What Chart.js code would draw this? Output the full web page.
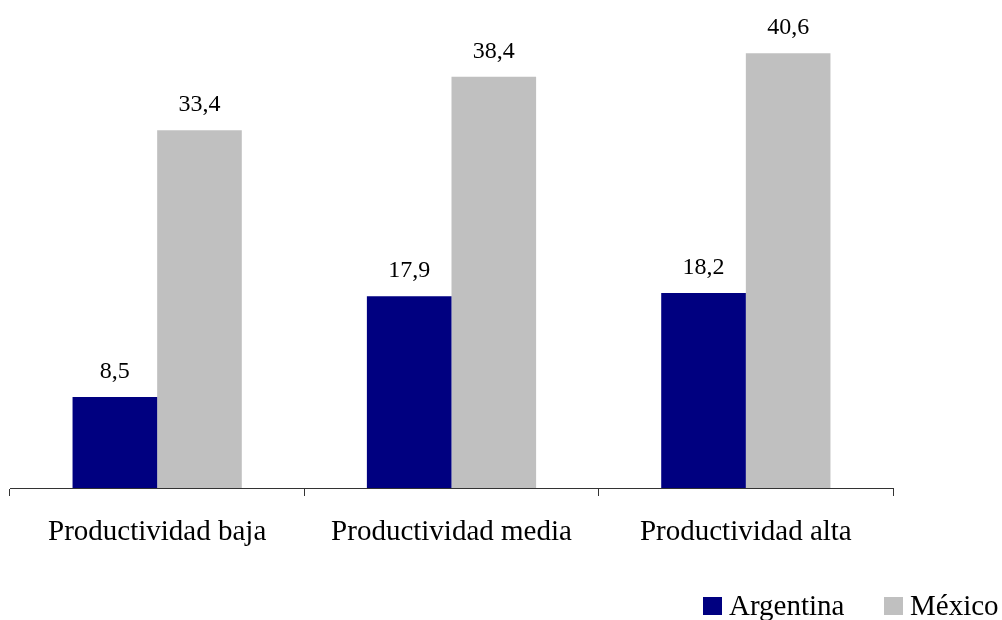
<!DOCTYPE html>
<html>
<head>
<meta charset="utf-8">
<script src="https://cdn.jsdelivr.net/npm/chart.js@4/dist/chart.umd.min.js"></script>
<style>
  html, body { margin: 0; padding: 0; background: #ffffff; }
  #wrap { width: 1002px; height: 620px; position: relative; }
</style>
</head>
<body>
<div id="wrap"><canvas id="c" width="1002" height="620"></canvas></div>
<script>
const categories = ['Productividad baja', 'Productividad media', 'Productividad alta'];
const seriesNames = ['Argentina', 'México'];
const argentina = [8.5, 17.9, 18.2];
const mexico = [33.4, 38.4, 40.6];
const seriesColors = ['#000080', '#C0C0C0'];

const SERIF = '"Liberation Serif", "Times New Roman", serif';

// Value labels above each bar, decimal comma
const valueLabels = {
  id: 'valueLabels',
  afterDatasetsDraw(chart) {
    const ctx = chart.ctx;
    ctx.save();
    ctx.font = '24px ' + SERIF;
    ctx.fillStyle = '#000000';
    ctx.textAlign = 'center';
    ctx.textBaseline = 'alphabetic';
    chart.data.datasets.forEach((ds, i) => {
      const meta = chart.getDatasetMeta(i);
      meta.data.forEach((bar, j) => {
        const txt = ds.data[j].toFixed(1).replace('.', ',');
        ctx.fillText(txt, bar.x, bar.y - 19);
      });
    });
    ctx.restore();
  }
};

// Legend in the lower right corner
const cornerLegend = {
  id: 'cornerLegend',
  afterDraw(chart) {
    const ctx = chart.ctx;
    ctx.save();
    ctx.font = '29px ' + SERIF;
    ctx.textBaseline = 'alphabetic';
    ctx.textAlign = 'left';
    const slots = [703, 884];
    chart.data.datasets.forEach((ds, i) => {
      const x = slots[i];
      ctx.fillStyle = ds.backgroundColor;
      ctx.fillRect(x, 597, 19, 18);
      ctx.fillStyle = '#000000';
      ctx.fillText(ds.label, x + 26, 615);
    });
    ctx.restore();
  }
};

new Chart(document.getElementById('c'), {
  type: 'bar',
  data: {
    labels: categories,
    datasets: [
      { label: seriesNames[0], data: argentina, backgroundColor: seriesColors[0] },
      { label: seriesNames[1], data: mexico, backgroundColor: seriesColors[1] }
    ]
  },
  options: {
    responsive: false,
    animation: false,
    devicePixelRatio: 1,
    layout: { padding: { left: 10, right: 109, top: 6, bottom: 0 } },
    datasets: {
      bar: { categoryPercentage: 0.575, barPercentage: 1.0, borderWidth: 0 }
    },
    scales: {
      x: {
        offset: true,
        grid: {
          offset: true,
          drawOnChartArea: false,
          drawTicks: true,
          tickLength: 8,
          color: '#333333',
          lineWidth: 1
        },
        border: { display: true, color: '#333333', width: 1 },
        ticks: {
          color: '#000000',
          font: { family: SERIF, size: 29 },
          padding: 19,
          maxRotation: 0,
          autoSkip: false
        },
        afterFit(scale) { scale.height = 132; }
      },
      y: {
        display: false,
        min: 0,
        max: 45
      }
    },
    plugins: {
      legend: { display: false },
      tooltip: { enabled: false }
    }
  },
  plugins: [valueLabels, cornerLegend]
});
</script>
</body>
</html>
